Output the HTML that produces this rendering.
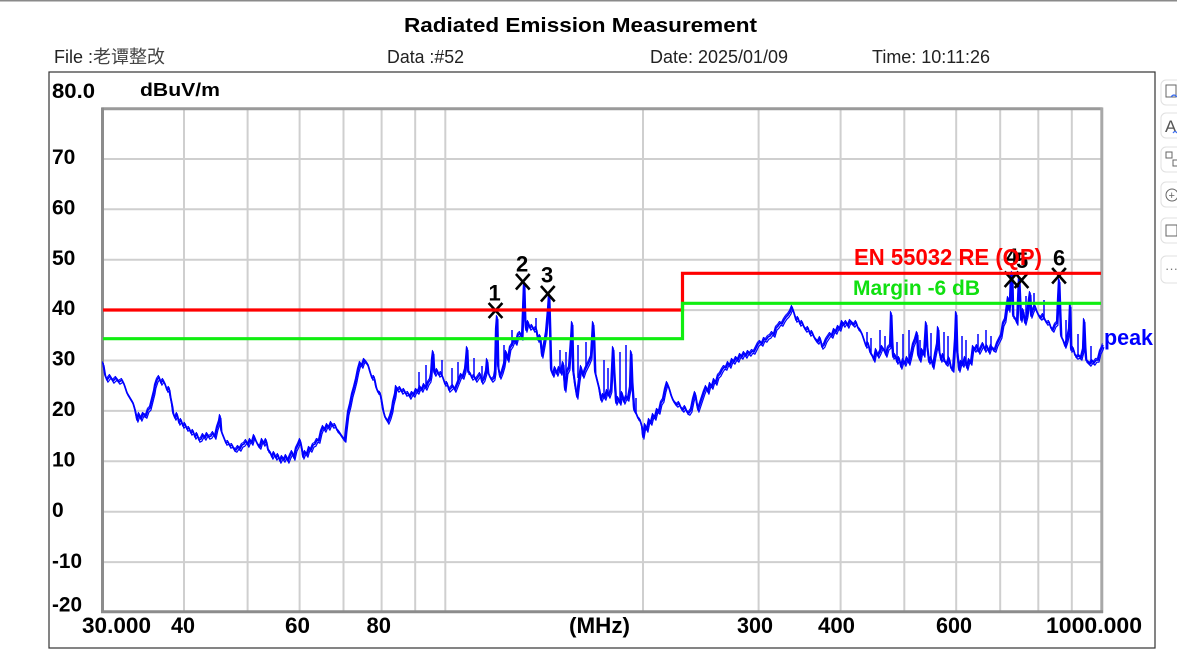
<!DOCTYPE html>
<html><head><meta charset="utf-8"><style>
html,body{margin:0;padding:0;background:#fff;}
svg{display:block;}
text{font-family:"Liberation Sans","Noto Sans CJK SC",sans-serif;}
</style></head><body>
<svg width="1177" height="661" viewBox="0 0 1177 661" xmlns="http://www.w3.org/2000/svg">
<defs>
<polyline id="tr" fill="none" stroke-linejoin="round" points="
103,363 105,375 107,380 110,376 113,381 116,378 119,382 122,380 124,384 127,393 130,398 133,403 135,410 137,420 139,414 141,419 143,414 146,416 148,410 150,408 152,400 154,392 155,386 157,380 159,377 161,383 163,380 165,384 167,390 169,388 170,395 172,405 173,413 175,418 177,414 179,423 181,420 183,426 185,424 187,429 189,428 191,433 193,431 195,437 197,434 199,440 201,439 203,435 205,438 207,434 209,437 211,436 213,433 215,437 217,428 219,422 220,416 221,430 222,433 224,438 226,443 228,442 230,446 232,445 234,449 236,450 238,447 240,449 242,445 244,444 246,441 248,445 250,440 252,443 254,436 256,441 258,445 260,447 262,440 264,444 266,440 268,450 270,452 272,457 274,453 276,458 278,455 280,461 282,457 284,460 286,456 288,461 290,456 292,452 294,458 296,449 298,445 300,440 302,450 303,457 305,452 307,455 309,448 311,450 313,445 315,444 317,440 319,441 321,432 323,427 325,430 327,425 329,428 331,423 333,426 335,425 337,430 339,432 341,435 343,438 345,440 346,430 348,413 350,405 352,395 354,388 356,380 358,370 360,363 362,366 364,360 366,362 368,365 370,372 372,378 374,377 376,387 378,392 380,393
381,398 383,410 385,417 387,420 388,422 390,417 392,410 393,403 395,395 396,387 398,390 400,388 402,392 404,390 406,394 408,393 410,397 412,393 414,395 416,390 418,392 420,387 422,390 424,385 426,388 428,383 430,380 431,375 432,360 433,352 434,372 435,374 437,370 439,375 441,373 443,378 445,384 447,383 449,390 451,388 453,386 455,390 457,385 459,380 461,375 463,377 465,370 466,360 467,348 468,372 470,373 472,378 474,376 476,380 478,377 480,374 482,382 484,379 486,372 487,360 488,372 490,377 492,380 494,378 495,372 496,330 497,317 498,366 500,377 502,372 504,365 506,352 508,360 510,348 512,345 514,340 516,343 518,335 520,333 522,338 523,310 524,283 525,318 526,330 528,322 530,328 532,326 534,330 536,328 538,340 540,336 542,356 544,345 546,333 548,310 549,295 550,330 551,370 553,375 555,368 557,374 559,368 561,373 563,363 565,390 567,372 569,368 571,340 572,323 573,370 575,385 577,397 579,380 581,367 583,376 585,370 587,366 589,362 591,357 593,323 594,340 595,372 597,380 599,388 601,400 603,395 605,398 607,391 609,396 611,390 613,348 614,370 616,403 618,398 620,403 622,393 624,402 626,397 628,399 630,388 631,352 632,380 634,410 636,413 638,418 640,420 642,427 643,437 645,425 647,430 649,420 651,423 653,415 655,418 657,410 659,412 661,403 663,400 665,390 667,383 669,388 671,395 673,400 675,403 677,405 679,403 681,408 683,410 685,407 687,412 689,413 691,410 693,400 695,393 697,405 698,410
700,404 702,398 704,392 706,387 708,392 710,384 712,387 714,380 716,383 718,376 720,374 722,370 724,367 726,368 728,363 730,366 732,360 734,362 736,358 738,360 740,355 742,357 744,353 746,356 748,352 750,354 752,351 754,352 756,348 758,344 760,342 762,344 764,339 766,340 768,337 770,336 772,333 774,335 776,328 778,326 780,323 782,324 784,320 786,317 788,315 790,312 792,307 794,313 796,320 798,318 800,324 802,322 804,327 806,330 808,328 810,334 812,332 814,337 816,340 818,342 820,338 822,347 824,345 826,340 828,337 830,334 832,336 834,330 836,332 838,327 840,329 842,322 844,325 846,322 848,326 850,321 852,323 854,325 856,322 858,328 860,330 862,334 864,340 866,346 868,343 870,352 872,355 874,360 876,350 878,356 880,352 882,347 884,350 886,355 888,348 890,346 891,313 892,340 893,357 895,355 897,362 899,358 901,367 903,360 905,364 907,358 909,363 911,355 913,345 915,340 917,333 918,355 920,360 922,350 924,355 926,323 927,345 929,362 931,358 933,367 935,355 937,345 938,328 939,350 941,360 943,355 945,362 947,364 949,358 951,368 953,370 955,340 956,313 957,350 959,370 961,362 963,365 965,358 967,368 969,360 971,363 973,347 975,350 977,346 979,352 981,348 983,344 985,350 987,346 989,352 991,346 993,349 995,350 997,344 999,340 1001,336 1003,324 1005,320 1007,305 1008,298 1009,310 1010,300 1011,276 1012,273 1013,316 1015,318 1017,323 1019,277 1020,300 1021,320 1023,310 1025,323 1027,315 1029,300 1030,293 1031,316 1033,310 1035,306 1037,312 1039,316 1041,318 1043,315 1045,320 1047,323 1049,322 1051,328 1053,330 1055,325 1057,323 1058,300 1059,280 1060,310 1061,336 1063,340 1065,346 1067,340 1069,330 1070,305 1071,350 1073,348 1075,355 1077,357 1079,356 1081,358 1083,350 1084,320 1085,345 1086,360 1088,362 1090,364 1092,361 1094,363 1096,360 1098,360 1100,352 1102,348 1103,345"/>
</defs>
<rect x="0" y="0" width="1177" height="661" fill="#fff"/>
<line x1="0" y1="0.7" x2="1177" y2="0.7" stroke="#8a8a8a" stroke-width="1.5"/>
<!-- title -->
<text x="404" y="32" font-size="20" font-weight="bold" fill="#000" textLength="353" lengthAdjust="spacingAndGlyphs">Radiated Emission Measurement</text>
<!-- header row -->
<text x="54" y="63" font-size="18" fill="#222">File :<tspan fill="#444">老谭整改</tspan></text>
<text x="387" y="63" font-size="18" fill="#222" textLength="77" lengthAdjust="spacingAndGlyphs">Data :#52</text>
<text x="650" y="63" font-size="18" fill="#222" textLength="138" lengthAdjust="spacingAndGlyphs">Date: 2025/01/09</text>
<text x="872" y="63" font-size="18" fill="#222" textLength="118" lengthAdjust="spacingAndGlyphs">Time: 10:11:26</text>
<!-- outer box -->
<rect x="49" y="72" width="1106" height="576" fill="none" stroke="#333" stroke-width="1.2"/>
<!-- side icons -->
<g fill="#fff" stroke="#e0e0e0" stroke-width="1">
<rect x="1161" y="80" width="30" height="25" rx="5"/>
<rect x="1161" y="113" width="30" height="25" rx="5"/>
<rect x="1161" y="147" width="30" height="25" rx="5"/>
<rect x="1161" y="182" width="30" height="25" rx="5"/>
<rect x="1161" y="218" width="30" height="25" rx="5"/>
<rect x="1161" y="256" width="30" height="27" rx="5"/>
</g>
<g font-size="13" fill="#555">
<rect x="1166" y="85" width="10" height="12" fill="none" stroke="#666" stroke-width="1"/>
<path d="M1171 97 q3 -4 6 0" fill="none" stroke="#3a6cf0" stroke-width="1.2"/>
<text x="1165" y="132" font-size="17" fill="#555">A</text>
<path d="M1173 133 q2 -3 4 0" fill="none" stroke="#3a6cf0" stroke-width="1.2"/>
<rect x="1166" y="152" width="6" height="6" fill="none" stroke="#666"/>
<rect x="1173" y="160" width="5" height="6" fill="none" stroke="#666"/>
<circle cx="1172" cy="195" r="6" fill="none" stroke="#666" stroke-width="1"/>
<text x="1168.5" y="199" font-size="11" fill="#666">+</text>
<rect x="1166" y="225" width="11" height="11" fill="none" stroke="#666" stroke-width="1"/>
<text x="1165" y="273" font-size="13" fill="#777">···</text>
</g>
<!-- grid -->
<g stroke="#cfcfcf" stroke-width="2">
<line x1="184" y1="109" x2="184" y2="611"/>
<line x1="247.6" y1="109" x2="247.6" y2="611"/>
<line x1="299.6" y1="109" x2="299.6" y2="611"/>
<line x1="343.5" y1="109" x2="343.5" y2="611"/>
<line x1="381.6" y1="109" x2="381.6" y2="611"/>
<line x1="415.2" y1="109" x2="415.2" y2="611"/>
<line x1="445.3" y1="109" x2="445.3" y2="611"/>
<line x1="643" y1="109" x2="643" y2="611"/>
<line x1="758.6" y1="109" x2="758.6" y2="611"/>
<line x1="840.6" y1="109" x2="840.6" y2="611"/>
<line x1="904.3" y1="109" x2="904.3" y2="611"/>
<line x1="956.2" y1="109" x2="956.2" y2="611"/>
<line x1="1000.2" y1="109" x2="1000.2" y2="611"/>
<line x1="1038.3" y1="109" x2="1038.3" y2="611"/>
<line x1="1071.8" y1="109" x2="1071.8" y2="611"/>
<line x1="103" y1="159" x2="1101" y2="159"/>
<line x1="103" y1="209.3" x2="1101" y2="209.3"/>
<line x1="103" y1="259.7" x2="1101" y2="259.7"/>
<line x1="103" y1="310.1" x2="1101" y2="310.1"/>
<line x1="103" y1="360.5" x2="1101" y2="360.5"/>
<line x1="103" y1="410.9" x2="1101" y2="410.9"/>
<line x1="103" y1="461.3" x2="1101" y2="461.3"/>
<line x1="103" y1="511.7" x2="1101" y2="511.7"/>
<line x1="103" y1="562.1" x2="1101" y2="562.1"/>
</g>
<!-- frame -->
<line x1="101.5" y1="108.7" x2="1102.5" y2="108.7" stroke="#9a9a9a" stroke-width="3"/>
<line x1="1101.8" y1="107.5" x2="1101.8" y2="613" stroke="#a8a8a8" stroke-width="3"/>
<line x1="102.5" y1="107.5" x2="102.5" y2="613" stroke="#8c8c8c" stroke-width="3"/>
<line x1="101" y1="611.8" x2="1103" y2="611.8" stroke="#8c8c8c" stroke-width="3"/>
<!-- trace -->
<use href="#tr" stroke="#0000ff" stroke-width="1.7"/>
<use href="#tr" stroke="#0000ff" stroke-width="1.2" transform="translate(0.9,2.2)"/>
<use href="#tr" stroke="#0000ff" stroke-width="1" transform="translate(-0.6,-1.6)"/>
<path fill="none" stroke="#0000ff" stroke-width="1.5" d="
M419 392 V372 M426 388 V365 M442 377 V360 M452 388 V368 M458 384 V362 M474 377 V358 M482 380 V366 M504 366 V345 M512 346 V330 M536 330 V318
M560 370 V350 M566 375 V352 M578 378 V345 M586 368 V342 M604 398 V360 M608 393 V368 M620 402 V352 M626 398 V345 M636 414 V398
M867 344 V332 M871 353 V338 M880 353 V330 M885 352 V336 M897 360 V342 M903 362 V334 M909 362 V330 M920 360 V340 M931 360 V333 M944 362 V332 M948 360 V336 M962 364 V336 M966 366 V340 M978 352 V334 M986 348 V330 M991 350 V336 M1026 320 V296 M1034 310 V293 M1044 320 V300 M1066 346 V320 M1078 357 V334 M1091 364 V346"/>
<!-- markers -->
<g stroke="#000" stroke-width="2.6" stroke-linecap="square">
<path d="M489.5 304 L501.5 317 M501.5 304 L489.5 317"/>
<path d="M516.8 275 L528.8 288.5 M528.8 275 L516.8 288.5"/>
<path d="M541.8 287 L553.8 300.5 M553.8 287 L541.8 300.5"/>
<path d="M1005.5 272.5 L1017.5 286 M1017.5 272.5 L1005.5 286"/>
<path d="M1015.5 273.5 L1027.5 287 M1027.5 273.5 L1015.5 287"/>
<path d="M1053 269 L1065 282.5 M1065 269 L1053 282.5"/>
</g>
<g font-size="22" font-weight="bold" fill="#000">
<text x="488.5" y="300.5">1</text>
<text x="516" y="271.5">2</text>
<text x="541" y="282.5">3</text>
<text x="1006" y="264">4</text>
<text x="1016" y="268">5</text>
<text x="1053" y="265.5">6</text>
</g>
<!-- limit lines -->
<polyline fill="none" stroke="#ff0000" stroke-width="3.2" points="103,310 682.5,310 682.5,273.3 1101,273.3"/>
<polyline fill="none" stroke="#10ee10" stroke-width="3.2" points="103,338.7 682.5,338.7 682.5,303.3 1101,303.3"/>
<!-- line labels -->
<text x="854" y="265" font-size="23" font-weight="bold" fill="#ff0000" textLength="188" lengthAdjust="spacingAndGlyphs">EN 55032 RE (QP)</text>
<text x="853" y="295" font-size="21" font-weight="bold" fill="#10e010" textLength="127" lengthAdjust="spacingAndGlyphs">Margin -6 dB</text>
<text x="1104" y="345" font-size="22" font-weight="bold" fill="#0000ff" textLength="49" lengthAdjust="spacingAndGlyphs">peak</text>
<!-- y axis labels -->
<g font-size="21" font-weight="bold" fill="#000">
<text x="52" y="98" textLength="43" lengthAdjust="spacingAndGlyphs">80.0</text>
<text x="52" y="164">70</text>
<text x="52" y="214.5">60</text>
<text x="52" y="265">50</text>
<text x="52" y="315">40</text>
<text x="52" y="365.5">30</text>
<text x="52" y="416">20</text>
<text x="52" y="466.5">10</text>
<text x="52" y="517">0</text>
<text x="52" y="568" textLength="30" lengthAdjust="spacingAndGlyphs">-10</text>
<text x="52" y="611.5" textLength="30" lengthAdjust="spacingAndGlyphs">-20</text>
</g>
<text x="140" y="96" font-size="18" font-weight="bold" fill="#000" textLength="80" lengthAdjust="spacingAndGlyphs">dBuV/m</text>
<!-- x axis labels -->
<g font-size="22" font-weight="bold" fill="#000">
<text x="82" y="633" textLength="69" lengthAdjust="spacingAndGlyphs">30.000</text>
<text x="171" y="633" textLength="24" lengthAdjust="spacingAndGlyphs">40</text>
<text x="285" y="633" textLength="25" lengthAdjust="spacingAndGlyphs">60</text>
<text x="366.5" y="633" textLength="24.5" lengthAdjust="spacingAndGlyphs">80</text>
<text x="569" y="633" textLength="61" lengthAdjust="spacingAndGlyphs">(MHz)</text>
<text x="737" y="633" textLength="36" lengthAdjust="spacingAndGlyphs">300</text>
<text x="818" y="633" textLength="37" lengthAdjust="spacingAndGlyphs">400</text>
<text x="936" y="633" textLength="36" lengthAdjust="spacingAndGlyphs">600</text>
<text x="1046" y="633" textLength="96" lengthAdjust="spacingAndGlyphs">1000.000</text>
</g>
</svg>
</body></html>
